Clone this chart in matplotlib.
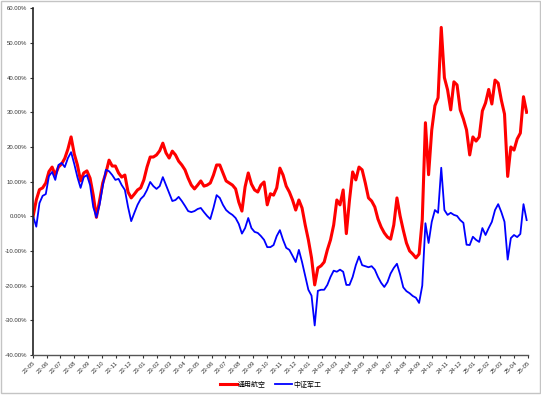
"""通用航空 vs 中证军工: cumulative return since 2022-05 (weekly readings)."""
import numpy as np
import pandas as pd
import matplotlib
matplotlib.use("Agg")
import matplotlib.pyplot as plt
import matplotlib.dates as mdates
from matplotlib.patches import Rectangle
from matplotlib.ticker import FuncFormatter, MultipleLocator

plt.rcParams["font.family"] = ["Liberation Sans", "Noto Sans CJK SC", "DejaVu Sans"]

DATES = pd.date_range("2022-05-02", periods=157, freq="7D")
SERIES_NAMES = ["通用航空", "中证军工"]

# cumulative return, %
GA = [0.0, 4.7, 7.7, 8.2, 9.6, 12.9, 14.2, 11.9, 14.2, 15.1,
      16.7, 19.4, 22.9, 18.0, 14.8, 10.2, 12.5, 13.1, 11.0, 6.1,
      -0.3, 4.5, 9.6, 12.5, 16.2, 14.5, 14.5, 12.5, 11.3, 11.9,
      7.0, 5.3, 6.4, 7.6, 8.2, 10.5, 14.2, 17.1, 17.1, 17.7,
      18.9, 21.1, 18.3, 16.8, 18.8, 17.7, 15.9, 14.8, 13.4, 11.0,
      9.0, 7.9, 9.0, 10.2, 8.7, 9.0, 9.6, 11.9, 14.8, 14.8,
      12.5, 10.2, 9.6, 9.0, 7.9, 4.1, 1.5, 8.5, 12.5, 9.3,
      7.6, 7.0, 9.0, 9.9, 3.3, 6.5, 6.1, 8.2, 13.9, 11.9,
      8.7, 7.0, 4.7, 1.8, 4.7, 2.4, -2.5, -6.8, -12.0, -19.8,
      -14.9, -14.3, -13.2, -9.7, -6.8, -2.5, 4.7, 3.3, 7.6, -5.0,
      4.7, 12.8, 10.5, 14.2, 13.4, 9.6, 5.3, 4.4, 2.7, -0.8,
      -3.1, -4.8, -6.0, -6.6, -2.5, 5.3, 0.1, -4.0, -7.7, -10.0,
      -10.9, -12.0, -10.9, -1.0, 27.0, 12.0, 24.9, 31.9, 34.2, 54.5,
      40.0, 36.5, 30.7, 38.8, 37.9, 30.7, 28.1, 24.9, 17.7, 22.9,
      21.7, 22.9, 30.4, 32.7, 36.6, 32.4, 39.3, 38.4, 33.5, 29.5,
      11.5, 20.0, 19.1, 22.3, 24.0, 34.5, 30.0]

MIL = [0.0, -3.0, 3.8, 5.9, 6.4, 11.6, 12.8, 10.5, 14.8, 15.4,
       14.2, 16.8, 18.5, 15.1, 11.3, 8.2, 11.3, 11.9, 9.0, 2.7,
       -0.3, 3.3, 8.7, 13.4, 13.0, 11.9, 10.5, 10.8, 9.0, 7.6,
       2.7, -1.4, 1.0, 3.3, 5.0, 5.9, 7.6, 9.9, 8.7, 7.9,
       8.7, 11.3, 9.0, 6.7, 4.4, 4.7, 5.6, 4.4, 3.0, 1.5,
       1.2, 1.5, 2.1, 2.4, 1.2, 0.1, -0.8, 2.4, 6.1, 5.3,
       3.3, 1.8, 1.0, 0.4, -0.5, -2.2, -5.0, -3.4, -0.5, -3.4,
       -4.5, -4.8, -5.7, -6.8, -8.9, -8.9, -8.3, -5.7, -4.0, -6.8,
       -9.1, -9.7, -11.4, -13.2, -9.7, -13.2, -17.2, -21.2, -22.9, -31.5,
       -21.5, -21.2, -21.2, -19.8, -17.5, -15.7, -16.0, -15.4, -16.0, -19.8,
       -19.8, -17.5, -14.1, -11.6, -14.1, -14.4, -14.7, -14.4, -15.4, -17.5,
       -19.2, -20.4, -19.0, -16.5, -14.9, -13.7, -16.8, -20.5, -21.6, -22.2,
       -23.0, -23.5, -25.0, -20.0, -2.0, -7.7, -1.6, 1.8, 1.0, 14.0,
       1.8, 0.4, 1.0, 0.4, 0.1, -1.1, -1.9, -8.2, -8.3, -5.9,
       -6.8, -7.4, -3.4, -5.4, -3.4, -1.6, 1.8, 3.5, 1.2, -1.6,
       -12.5, -6.3, -5.4, -6.0, -5.1, 3.5, -1.1]


def main():
    fig = plt.figure(figsize=(5.41, 3.97), dpi=100)
    ax = fig.add_axes([0.0604, 0.106, 0.9156, 0.873])

    ax.plot(DATES, GA, color="#ff0000", lw=2.2, label=SERIES_NAMES[0])
    ax.plot(DATES, MIL, color="#0000ff", lw=1.3, label=SERIES_NAMES[1])

    ax.set_ylim(-40, 60)
    ax.yaxis.set_major_locator(MultipleLocator(10))
    ax.yaxis.set_major_formatter(FuncFormatter(lambda v, _: f"{v:.2f}%"))
    ax.set_xlim(pd.Timestamp("2022-05-01"), pd.Timestamp("2025-05-01"))
    ax.xaxis.set_major_locator(mdates.MonthLocator())
    ax.xaxis.set_major_formatter(mdates.DateFormatter("%y-%m"))

    for s in ("top", "right"):
        ax.spines[s].set_visible(False)
    ax.spines["left"].set_color("#222222")
    ax.spines["left"].set_linewidth(1.2)
    ax.spines["bottom"].set_color("#555555")
    ax.spines["bottom"].set_linewidth(1.0)
    ax.tick_params(axis="both", direction="out", length=2.5, width=0.8,
                   colors="#333333", labelsize=4.3, pad=1.5)
    plt.setp(ax.get_xticklabels(), rotation=45, ha="right",
             rotation_mode="anchor")

    fig.legend(loc="center", bbox_to_anchor=(0.5, 0.031), ncol=2,
               frameon=False, fontsize=5, handlelength=2.4,
               handletextpad=0.2, columnspacing=1.3,
               prop={"family": ["Noto Sans CJK SC"], "size": 5})

    fig.patches.append(Rectangle((0.001, 0.01), 0.997, 0.988,
                                 transform=fig.transFigure, fill=False,
                                 edgecolor="#c4c4c4", lw=1.0))
    fig.savefig("out.png", dpi=100)
    plt.close(fig)


if __name__ == "__main__":
    main()
